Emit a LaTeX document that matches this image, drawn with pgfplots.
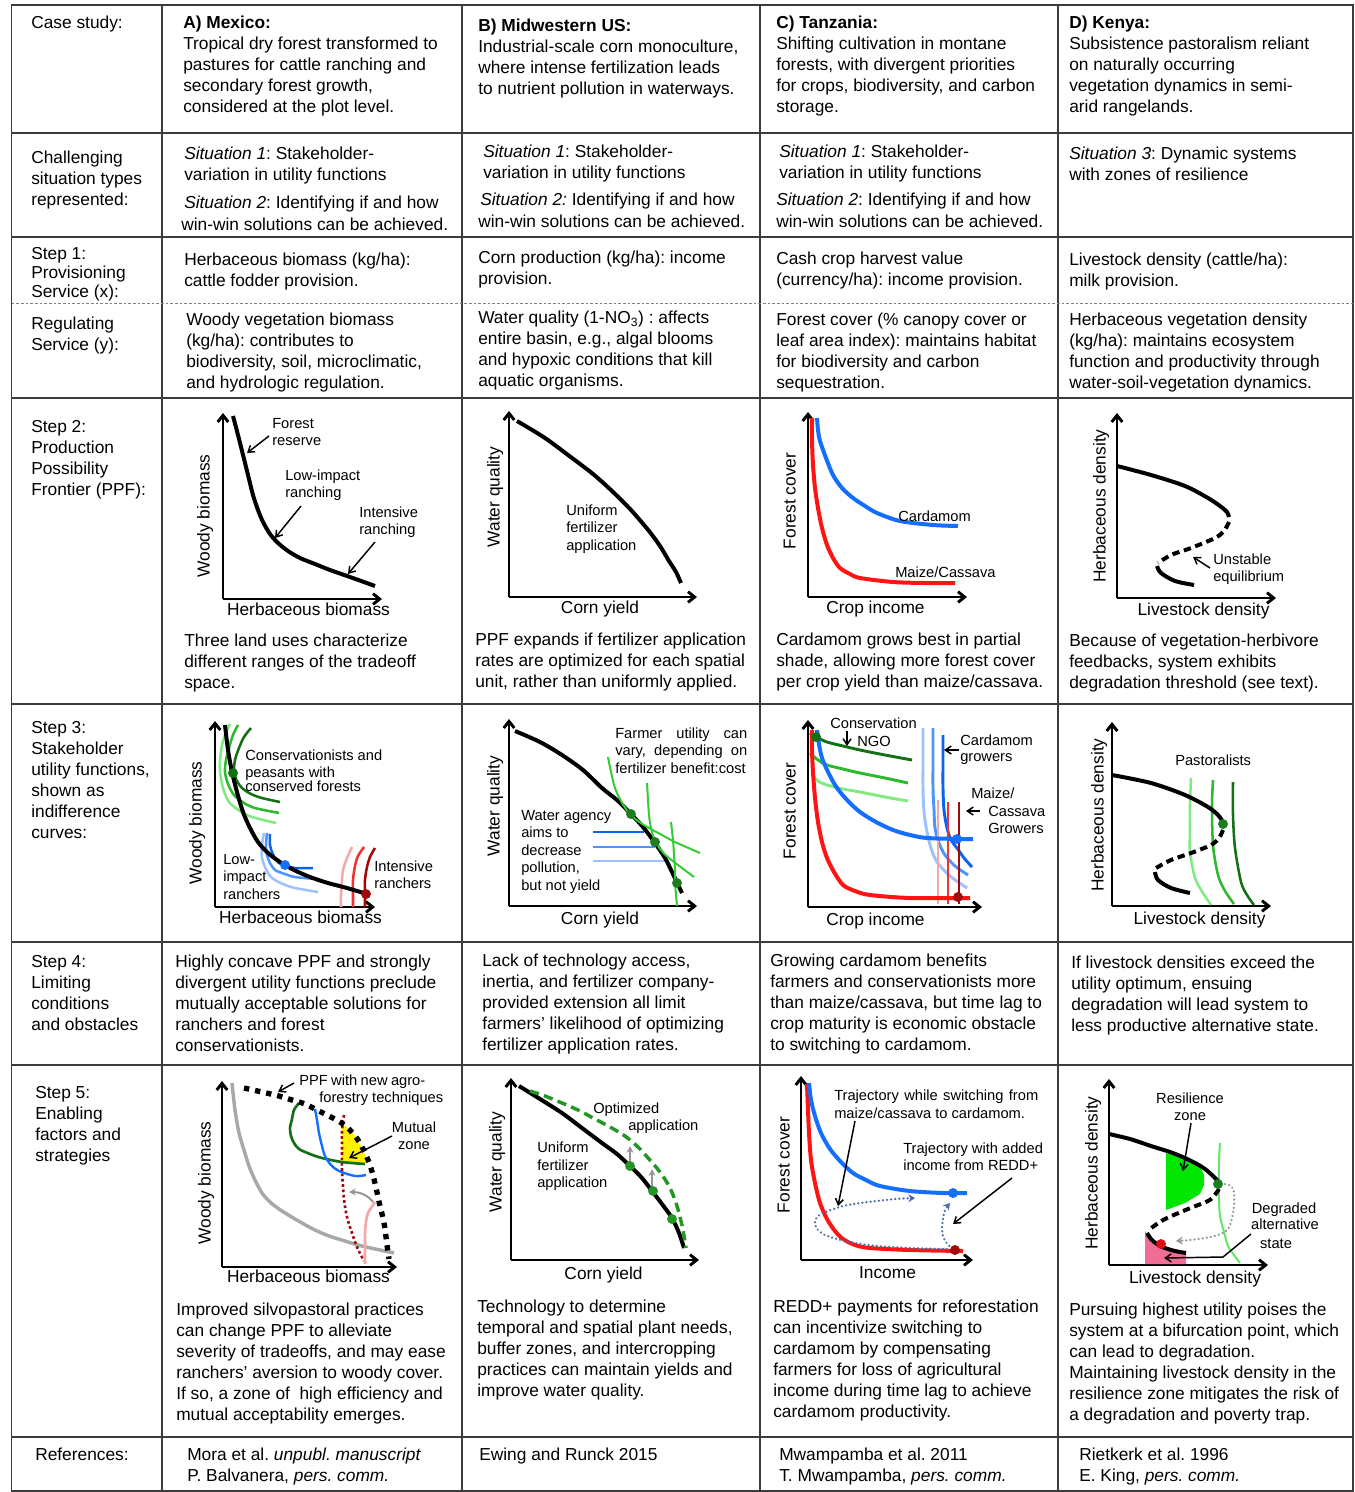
\documentclass[border=0pt]{standalone}
\usepackage{fontspec}
\setmainfont{Liberation Sans}
\usepackage{pgfplots}
\pgfplotsset{compat=1.18}
\usetikzlibrary{arrows.meta}
\frenchspacing

\definecolor{cblue}{RGB}{20,110,255}
\definecolor{cred}{RGB}{255,20,20}
\definecolor{dgreen}{RGB}{20,112,20}
\definecolor{mgreen}{RGB}{45,185,45}
\definecolor{lgreen}{RGB}{128,235,128}
\definecolor{bgreen}{RGB}{50,205,50}
\definecolor{dotgreen}{RGB}{30,125,30}
\definecolor{dotgreen2}{RGB}{35,150,35}
\definecolor{dblue}{RGB}{10,100,240}
\definecolor{mblue}{RGB}{77,148,255}
\definecolor{lblue}{RGB}{156,195,255}
\definecolor{pinkr}{RGB}{245,168,168}
\definecolor{midr}{RGB}{240,50,50}
\definecolor{darkr}{RGB}{160,10,10}
\definecolor{ggray}{RGB}{168,168,168}
\definecolor{agray}{RGB}{150,150,150}
\definecolor{traj}{RGB}{74,110,168}
\definecolor{resil}{RGB}{0,230,0}
\definecolor{degr}{RGB}{240,110,150}
\definecolor{lgline}{RGB}{102,230,102}
\definecolor{grid}{RGB}{60,60,60}

\newcommand\bodyf{\fontsize{13}{15.75}\selectfont}
% table cells (pixel coordinates, y down): x, first baseline, text
\newcommand\cell[3]{\node[anchor=north west,inner sep=0pt,align=left,font=\bodyf] at (#1,#2-14.7) {\strut #3};}
\newcommand\cellL[4]{\node[anchor=north west,inner sep=0pt,align=left,font=\fontsize{13}{#3}\selectfont] at (#1,{#2-0.9333*#3}) {\strut #4};}
% chart annotations (axis cs = pixel x, -pixel y)
\newcommand\ann[4]{\node[anchor=north west,inner sep=0pt,align=left,font=\fontsize{11}{#3}\selectfont] at (axis cs:#1,{0.9333*#3-#2}) {\strut #4};}
\newcommand\annc[4]{\node[anchor=north,inner sep=0pt,align=center,font=\fontsize{11}{#3}\selectfont] at (axis cs:#1,{0.9333*#3-#2}) {\strut #4};}
\newcommand\annb[3]{\node[anchor=base west,inner sep=0pt,font=\fontsize{11}{13}\selectfont] at (axis cs:#1,-#2) {#3};}
\newcommand\annbc[3]{\node[anchor=base,inner sep=0pt,font=\fontsize{11}{13}\selectfont] at (axis cs:#1,-#2) {#3};}
\newcommand\xl[3]{\node[anchor=base,inner sep=0pt,font=\bodyf] at (axis cs:#1,-#2) {#3};}
\newcommand\yl[3]{\node[anchor=base,rotate=90,inner sep=0pt,font=\bodyf] at (axis cs:#1,-#2) {#3};}
\newcommand\arr[4]{\draw[black,line width=1.1pt,-{Straight Barb[length=4.5pt,width=6pt]}] (axis cs:#1,-#2) -- (axis cs:#3,-#4);}

\pgfplotsset{mini/.style={x=0.75pt,y=0.75pt,axis lines=left,xtick=\empty,ytick=\empty,
  axis line style={line width=2.2pt,-{Straight Barb[length=5pt,width=8pt]}},
  clip=false,anchor=south west,enlargelimits=false},
  dot/.style={only marks,mark=*,mark size=3.5pt,color=#1}}

\begin{document}
\begin{tikzpicture}
\useasboundingbox (0,0) rectangle (1016.25pt,-1119pt);
\fill[white] (0,0) rectangle (1016.25pt,-1119pt);
\begin{scope}[x=0.75pt,y=-0.75pt]
% grid
\draw[grid,line width=0.8pt] (11.5,5) rectangle (1353,1491);
\foreach \xx in {162,462,760,1058} \draw[grid,line width=0.8pt] (\xx,5)--(\xx,1491);
\foreach \yy in {133,237,398,704,942,1065,1437} \draw[grid,line width=0.8pt] (11.5,\yy)--(1353,\yy);
\draw[gray,line width=0.7pt,dash pattern=on 2pt off 1.5pt] (11.5,303)--(1353,303);
% row 1
\cell{31}{28}{Case study:}
\cell{183}{28}{\textbf{A) Mexico:}\\Tropical dry forest transformed to\\pastures for cattle ranching and\\secondary forest growth,\\considered at the plot level.}
\cell{478}{31}{\textbf{B) Midwestern US:}\\Industrial-scale corn monoculture,\\where intense fertilization leads\\to nutrient pollution in waterways.}
\cell{776}{28}{\textbf{C) Tanzania:}\\Shifting cultivation in montane\\forests, with divergent priorities\\for crops, biodiversity, and carbon\\storage.}
\cell{1069}{28}{\textbf{D) Kenya:}\\Subsistence pastoralism reliant\\on naturally occurring\\vegetation dynamics in semi-\\arid rangelands.}
% row 2
\cell{31}{163}{Challenging\\situation types\\represented:}
\cell{184}{159}{\textit{Situation 1}: Stakeholder-\\variation in utility functions}
\cell{184}{208}{\textit{Situation 2}: Identifying if and how}
\cell{181}{230}{win-win solutions can be achieved.}
\cell{483}{157}{\textit{Situation 1}: Stakeholder-\\variation in utility functions}
\cell{480}{205}{\textit{Situation 2:} Identifying if and how}
\cell{478}{227}{win-win solutions can be achieved.}
\cell{779}{157}{\textit{Situation 1}: Stakeholder-\\variation in utility functions}
\cell{776}{205}{\textit{Situation 2}: Identifying if and how}
\cell{776}{227}{win-win solutions can be achieved.}
\cell{1069}{159}{\textit{Situation 3}: Dynamic systems\\with zones of resilience}
% row 3
\cellL{31}{259}{14.25}{Step 1:\\Provisioning\\Service (x):}
\cell{184}{265}{Herbaceous biomass (kg/ha):\\cattle fodder provision.}
\cell{478}{263}{Corn production (kg/ha): income\\provision.}
\cell{776}{264}{Cash crop harvest value\\(currency/ha): income provision.}
\cell{1069}{265}{Livestock density (cattle/ha):\\milk provision.}
% row 4
\cell{31}{329}{Regulating\\Service (y):}
\cell{186}{325}{Woody vegetation biomass\\(kg/ha): contributes to\\biodiversity, soil, microclimatic,\\and hydrologic regulation.}
\cell{478}{323}{Water quality (1-NO\textsubscript{3}) : affects\\entire basin, e.g., algal blooms\\and hypoxic conditions that kill\\aquatic organisms.}
\cell{776}{325}{Forest cover (\% canopy cover or\\leaf area index): maintains habitat\\for biodiversity and carbon\\sequestration.}
\cell{1069}{325}{Herbaceous vegetation density\\(kg/ha): maintains ecosystem\\function and productivity through\\water-soil-vegetation dynamics.}
% row 5
\cell{31}{432}{Step 2:\\Production\\Possibility\\Frontier (PPF):}
\cell{184}{646}{Three land uses characterize\\different ranges of the tradeoff\\space.}
\cell{475}{645}{PPF expands if fertilizer application\\rates are optimized for each spatial\\unit, rather than uniformly applied.}
\cell{776}{645}{Cardamom grows best in partial\\shade, allowing more forest cover\\per crop yield than maize/cassava.}
\cell{1069}{646}{Because of vegetation-herbivore\\feedbacks, system exhibits\\degradation threshold (see text).}
% row 6
\cell{31}{733}{Step 3:\\Stakeholder\\utility functions,\\shown as\\indifference\\curves:}
% row 7
\cell{31}{967}{Step 4:\\Limiting\\conditions\\and obstacles}
\cell{175}{967}{Highly concave PPF and strongly\\divergent utility functions preclude\\mutually acceptable solutions for\\ranchers and forest\\conservationists.}
\cell{482}{966}{Lack of technology access,\\inertia, and fertilizer company-\\provided extension all limit\\farmers’ likelihood of optimizing\\fertilizer application rates.}
\cell{770}{966}{Growing cardamom benefits\\farmers and conservationists more\\than maize/cassava, but time lag to\\crop maturity is economic obstacle\\to switching to cardamom.}
\cell{1071}{968}{If livestock densities exceed the\\utility optimum, ensuing\\degradation will lead system to\\less productive alternative state.}
% row 8
\cell{35}{1098}{Step 5:\\Enabling\\factors and\\strategies}
\cell{176}{1315}{Improved silvopastoral practices\\can change PPF to alleviate\\severity of tradeoffs, and may ease\\ranchers’ aversion to woody cover.\\If so, a zone of\ \ high efficiency and\\mutual acceptability emerges.}
\cell{477}{1312}{Technology to determine\\temporal and spatial plant needs,\\buffer zones, and intercropping\\practices can maintain yields and\\improve water quality.}
\cell{773}{1312}{REDD+ payments for reforestation\\can incentivize switching to\\cardamom by compensating\\farmers for loss of agricultural\\income during time lag to achieve\\cardamom productivity.}
\cell{1069}{1315}{Pursuing highest utility poises the\\system at a bifurcation point, which\\can lead to degradation.\\Maintaining livestock density in the\\resilience zone mitigates the risk of\\a degradation and poverty trap.}
% row 9
\cell{35}{1460}{References:}
\cell{187}{1460}{Mora et al. \textit{unpubl. manuscript}\\P. Balvanera, \textit{pers. comm.}}
\cell{479}{1460}{Ewing and Runck 2015}
\cell{779}{1460}{Mwampamba et al. 2011\\T. Mwampamba, \textit{pers. comm.}}
\cell{1079}{1460}{Rietkerk et al. 1996\\E. King, \textit{pers. comm.}}
\end{scope}

% ===== Step 2 A
\begin{axis}[mini,xmin=223,xmax=382,ymin=-599,ymax=-413,at={(167.25pt,-449.25pt)}]
\addplot[black,line width=3pt,smooth] coordinates {(233,-416)(238,-435)(243,-455)(248,-475)(253,-495)(258,-510)(263,-522)(270,-534)(278,-543)(288,-551)(300,-558)(315,-564)(330,-570)(350,-577)(375,-586)};
\ann{272}{428}{12.9}{Forest\\reserve}
\arr{269}{436}{247}{453}
\ann{285}{480}{13.1}{Low-impact\\ranching}
\arr{301}{506}{275}{538}
\ann{359}{517}{13.1}{Intensive\\ranching}
\arr{375}{542}{348}{574}
\xl{308.5}{615}{Herbaceous biomass}
\yl{209.5}{516}{Woody biomass}
\end{axis}
% ===== Step 2 B
\begin{axis}[mini,xmin=509,xmax=697,ymin=-597,ymax=-411,at={(381.75pt,-447.75pt)}]
\addplot[black,line width=3pt,smooth] coordinates {(517,-421)(545,-438)(572,-458)(593,-474)(612,-491)(631,-510)(649,-531)(660,-546)(669,-561)(676,-572)(681,-583)};
\ann{566}{515}{13.1}{Uniform\\fertilizer\\application}
\xl{600}{613}{Corn yield}
\yl{499.5}{497}{Water quality}
\end{axis}
% ===== Step 2 C
\begin{axis}[mini,xmin=808,xmax=967,ymin=-597,ymax=-412,at={(606pt,-447.75pt)}]
\addplot[cblue,line width=3pt,smooth] coordinates {(817,-418)(818,-430)(820,-441)(826,-458)(833,-475)(842,-488)(853,-498)(865,-506)(877,-513)(900,-521)(933,-525)(958,-526)};
\addplot[cred,line width=3pt,smooth] coordinates {(812,-418)(812,-440)(813,-465)(815,-488)(818,-508)(822,-528)(827,-545)(833,-558)(840,-568)(850,-574)(860,-578)(893,-582)(925,-583)(955,-583)};
\annb{898}{521}{Cardamom}
\annb{895}{577}{Maize/Cassava}
\xl{875.5}{613}{Crop income}
\yl{795.5}{501}{Forest cover}
\end{axis}
% ===== Step 2 D
\begin{axis}[mini,xmin=1117,xmax=1276,ymin=-598,ymax=-413,at={(837.75pt,-448.5pt)}]
\addplot[black,line width=3pt,smooth] coordinates {(1117,-466)(1151,-475)(1185,-486)(1208,-498)(1220,-506)(1227,-512)(1229,-517)};
\addplot[black,line width=3pt,smooth,dash pattern=on 5.5pt off 3.5pt] coordinates {(1229,-522)(1224,-531)(1215,-538)(1191,-548)(1171,-555)(1158,-563)};
\addplot[black,line width=3pt,smooth] coordinates {(1157,-566)(1161,-573)(1175,-581)(1194,-585)};
\ann{1213}{564}{12.75}{Unstable\\equilibrium}
\arr{1210}{568}{1193}{557}
\xl{1203.5}{615}{Livestock density}
\yl{1105.5}{506}{Herbaceous density}
\end{axis}

% ===== Step 3 A
\begin{axis}[mini,xmin=215,xmax=375,ymin=-907,ymax=-721,at={(161.25pt,-680.25pt)}]
\addplot[lgreen,line width=1.9pt,smooth] coordinates {(230,-724)(225,-735)(222,-745)(220,-760)(220,-772)(223,-788)(229,-802)(240,-811)(252,-817)(276,-823)};
\addplot[mgreen,line width=1.9pt,smooth] coordinates {(238,-725)(233,-735)(229,-748)(226,-760)(225,-772)(228,-784)(234,-795)(244,-803)(255,-808)(279,-813)};
\addplot[dgreen,line width=1.9pt,smooth] coordinates {(251,-728)(244,-737)(239,-748)(235,-760)(234,-772)(237,-781)(242,-788)(251,-794)(262,-798)(280,-802)};
\addplot[lblue,line width=1.9pt,smooth] coordinates {(264,-833)(262,-845)(262,-858)(266,-869)(272,-878)(283,-884)(295,-888)(318,-892)};
\addplot[mblue,line width=1.9pt,smooth] coordinates {(267,-833)(266,-845)(267,-855)(270,-863)(275,-870)(285,-874)(295,-877)(316,-879)};
\addplot[dblue,line width=1.9pt,smooth] coordinates {(270,-834)(270,-845)(272,-852)(275,-858)(279,-863)(287,-866)(295,-868)(313,-868)};
\addplot[pinkr,line width=1.9pt,smooth] coordinates {(352,-847)(347,-858)(343,-870)(342,-880)(341,-895)(341,-907)};
\addplot[midr,line width=1.9pt,smooth] coordinates {(364,-847)(358,-856)(355,-866)(353,-880)(353,-895)(353,-907)};
\addplot[darkr,line width=1.9pt,smooth] coordinates {(375,-848)(370,-857)(367,-867)(365,-880)(365,-895)(365,-907)};
\addplot[black,line width=3pt,smooth] coordinates {(225,-725)(228,-750)(232,-772)(237,-792)(243,-812)(250,-828)(258,-842)(268,-853)(280,-862)(294,-870)(310,-877)(328,-883)(347,-888)(367,-894)};
\addplot[dot=dgreen] coordinates {(233,-773)};
\addplot[dot=cblue] coordinates {(285,-865)};
\addplot[dot=darkr] coordinates {(366,-894)};
\ann{245}{760}{10.9}{Conservationists and\\peasants with\\conserved forests}
\ann{223}{864}{13.1}{Low-\\impact\\ranchers}
\ann{374}{871}{12.8}{Intensive\\ranchers}
\xl{300.5}{923}{Herbaceous biomass}
\yl{201.5}{823}{Woody biomass}
\end{axis}
% ===== Step 3 B
\begin{axis}[mini,xmin=509,xmax=697,ymin=-906,ymax=-719,at={(381.75pt,-679.5pt)}]
\addplot[dblue,line width=1.9pt] coordinates {(593,-832)(644,-832)};
\addplot[mblue,line width=1.9pt] coordinates {(593,-847)(655,-847)};
\addplot[lblue,line width=1.9pt] coordinates {(593,-861)(665,-861)};
\addplot[black,line width=3pt,smooth] coordinates {(515,-731)(540,-742)(562,-755)(583,-770)(602,-788)(617,-800)(629,-812)(643,-827)(655,-843)(665,-858)(672,-872)(682,-893)};
\addplot[bgreen,line width=1.5pt,smooth] coordinates {(608,-757)(611,-772)(615,-788)(621,-801)(629,-813)(638,-821)(649,-828)(662,-835)(675,-842)(700,-853)};
\addplot[bgreen,line width=1.5pt,smooth] coordinates {(647,-783)(648,-800)(649,-815)(651,-828)(654,-838)(660,-849)(669,-858)(694,-877)};
\addplot[bgreen,line width=1.5pt,smooth] coordinates {(671,-822)(673,-840)(674,-855)(675,-870)(675,-882)(677,-906)};
\addplot[dot=dotgreen] coordinates {(631,-814)(655,-842)(677,-883)};
\ann{615}{738}{13.1}{\makebox[99pt][s]{Farmer utility can}\\\makebox[99pt][s]{vary, depending on}\\fertilizer benefit:cost}
\ann{521}{820}{13.1}{Water agency\\aims to\\decrease\\pollution,\\but not yield}
\xl{600}{924}{Corn yield}
\yl{499.5}{806}{Water quality}
\end{axis}
% ===== Step 3 C
\begin{axis}[mini,xmin=808,xmax=982,ymin=-907,ymax=-720,at={(606pt,-680.25pt)}]
\addplot[dgreen,line width=2.2pt,smooth] coordinates {(810,-733)(816,-737)(827,-742)(843,-746)(860,-750)(885,-755)(912,-760)};
\addplot[mgreen,line width=2.2pt,smooth] coordinates {(810,-753)(818,-760)(827,-765)(843,-769)(860,-773)(885,-778)(908,-783)};
\addplot[lgreen,line width=2.2pt,smooth] coordinates {(812,-775)(818,-781)(827,-785)(843,-789)(860,-792)(885,-797)(908,-801)};
\addplot[lblue,line width=2.2pt,smooth] coordinates {(923,-728)(923,-760)(923,-788)(924,-812)(927,-832)(931,-848)(937,-862)(950,-876)(967,-888)};
\addplot[mblue,line width=2.2pt,smooth] coordinates {(933,-728)(933,-760)(933,-788)(934,-810)(935,-828)(939,-843)(945,-855)(955,-866)(968,-875)};
\addplot[dblue,line width=2.2pt,smooth] coordinates {(943,-735)(943,-760)(943,-788)(944,-810)(947,-828)(951,-840)(957,-848)(964,-858)(972,-867)};
\addplot[pinkr,line width=2pt] coordinates {(938,-800)(938,-904)};
\addplot[midr,line width=2pt] coordinates {(948,-802)(948,-904)};
\addplot[darkr,line width=2pt] coordinates {(959,-802)(959,-904)};
\addplot[cred,line width=3pt,smooth] coordinates {(812,-730)(812,-750)(813,-772)(815,-798)(818,-822)(822,-842)(827,-858)(834,-872)(843,-885)(855,-891)(870,-895)(910,-898)(970,-898)};
\addplot[cblue,line width=3pt,smooth] coordinates {(817,-730)(819,-744)(822,-758)(829,-774)(837,-788)(848,-801)(860,-812)(876,-822)(893,-830)(910,-835)(927,-838)(960,-839)(973,-839)};
\addplot[dot=dgreen] coordinates {(816,-737)};
\addplot[dot=cblue] coordinates {(957,-839)};
\addplot[dot=darkr] coordinates {(958,-897)};
\annb{830}{728}{Conservation}
\annb{857}{746}{NGO}
\arr{847}{731}{847}{746}
\ann{960}{745.7}{12}{Cardamom\\growers}
\arr{959}{750}{944}{750}
\annb{971}{798}{Maize/}
\annb{988}{816}{Cassava}
\annb{988}{833}{Growers}
\arr{980}{811}{966}{811}
\xl{875.5}{925}{Crop income}
\yl{795.5}{811}{Forest cover}
\end{axis}
% ===== Step 3 D
\begin{axis}[mini,xmin=1112,xmax=1271,ymin=-906,ymax=-722,at={(834pt,-679.5pt)}]
\addplot[lgreen,line width=1.9pt,smooth] coordinates {(1191,-778)(1190,-805)(1190,-830)(1190,-852)(1195,-878)(1203,-893)(1211,-905)};
\addplot[mgreen,line width=1.9pt,smooth] coordinates {(1213,-780)(1212,-805)(1213,-845)(1218,-875)(1225,-891)(1234,-904)};
\addplot[dgreen,line width=1.9pt,smooth] coordinates {(1233,-782)(1233,-815)(1235,-848)(1241,-882)(1247,-895)(1254,-905)};
\addplot[black,line width=3pt,smooth] coordinates {(1112,-775)(1151,-783)(1185,-795)(1208,-807)(1218,-815)(1223,-822)};
\addplot[black,line width=3pt,smooth,dash pattern=on 5.5pt off 3.5pt] coordinates {(1223,-830)(1219,-838)(1211,-845)(1191,-853)(1171,-860)(1156,-868)};
\addplot[black,line width=3pt,smooth] coordinates {(1155,-872)(1158,-880)(1171,-888)(1190,-893)};
\addplot[dot=dotgreen] coordinates {(1223,-824)};
\annb{1175}{765}{Pastoralists}
\xl{1199.5}{924}{Livestock density}
\yl{1103.5}{815}{Herbaceous density}
\end{axis}

% ===== Step 5 A
\begin{axis}[mini,xmin=222,xmax=397,ymin=-1267,ymax=-1081,at={(166.5pt,-950.25pt)}]
\addplot[fill=yellow,draw=none] coordinates {(342,-1124)(349,-1129)(356,-1137)(361,-1146)(365,-1155)(367,-1163)(355,-1163)(342,-1162)} --cycle;
\addplot[ggray,line width=2.6pt,smooth] coordinates {(232,-1083)(235,-1110)(239,-1133)(244,-1150)(249,-1166)(255,-1180)(262,-1193)(270,-1202)(279,-1209)(290,-1216)(302,-1223)(315,-1230)(329,-1236)(345,-1241)(362,-1246)(394,-1253)};
\addplot[darkr,line width=2pt,dash pattern=on 2pt off 2pt,smooth] coordinates {(344,-1115)(342,-1130)(342,-1149)(342,-1170)(344,-1199)(347,-1217)(352,-1233)(357,-1247)(364,-1261)};
\addplot[pinkr,line width=2pt,smooth] coordinates {(365,-1264)(365,-1245)(365,-1233)(366,-1222)(368,-1213)(375,-1202)};
\addplot[dgreen,line width=2pt,smooth] coordinates {(299,-1103)(294,-1110)(292,-1119)(290,-1128)(291,-1136)(294,-1143)(299,-1149)(310,-1154)(322,-1158)(342,-1162)(365,-1164)};
\addplot[cblue,line width=1.8pt,smooth] coordinates {(315,-1109)(317,-1120)(319,-1133)(322,-1146)(325,-1156)(331,-1165)(339,-1171)(355,-1176)(366,-1175)};
\addplot[black,line width=4pt,dash pattern=on 4pt off 4.5pt,smooth] coordinates {(244,-1088)(262,-1092)(279,-1096)(292,-1100)(305,-1104)(317,-1110)(329,-1116)(340,-1122)(349,-1129)(358,-1140)(365,-1153)(370,-1165)(374,-1179)(377,-1192)(380,-1206)(383,-1218)(385,-1229)(387,-1245)(389,-1259)};
\draw[agray,line width=1.5pt,-{Stealth[length=5pt,width=5pt]}] (axis cs:373,-1202) .. controls (axis cs:367,-1194) and (axis cs:358,-1192) .. (axis cs:349,-1192);
\annb{299}{1085}{\makebox[94.5pt][s]{PPF with new agro-}}
\annb{319}{1102}{forestry techniques}
\arr{294}{1083}{278}{1092}
\annc{414}{1132}{12.9}{Mutual\\zone}
\arr{392}{1136}{349}{1158}
\xl{308.5}{1282}{Herbaceous biomass}
\yl{210.5}{1183}{Woody biomass}
\end{axis}
% ===== Step 5 B
\begin{axis}[mini,xmin=511,xmax=699,ymin=-1260,ymax=-1078,at={(383.25pt,-945pt)}]
\addplot[black,line width=3pt,smooth] coordinates {(519,-1086)(540,-1099)(562,-1113)(582,-1128)(602,-1143)(617,-1154)(630,-1166)(642,-1178)(652,-1191)(662,-1204)(672,-1218)(679,-1233)(684,-1248)};
\addplot[dotgreen2,line width=2.6pt,dash pattern=on 7pt off 4pt,smooth] coordinates {(530,-1091)(545,-1096)(562,-1103)(578,-1110)(595,-1119)(610,-1127)(625,-1136)(638,-1147)(649,-1159)(660,-1172)(669,-1186)(675,-1200)(679,-1213)(683,-1230)(686,-1248)};
\draw[agray,line width=1.5pt,-{Stealth[length=5pt,width=5pt]}] (axis cs:630,-1163) -- (axis cs:630,-1146);
\draw[agray,line width=1.5pt,-{Stealth[length=5pt,width=5pt]}] (axis cs:652,-1188) -- (axis cs:652,-1169);
\addplot[dot=dotgreen2] coordinates {(630,-1166)(653,-1191)(672,-1219)};
\annb{593}{1113}{Optimized}
\annb{628}{1130}{application}
\ann{537}{1152}{13.3}{Uniform\\fertilizer\\application}
\xl{603.5}{1279}{Corn yield}
\yl{501.5}{1162}{Water quality}
\end{axis}
% ===== Step 5 C
\begin{axis}[mini,xmin=801,xmax=973,ymin=-1260,ymax=-1076,at={(600.75pt,-945pt)}]
\addplot[cred,line width=3pt,smooth] coordinates {(807,-1084)(808,-1110)(809,-1133)(811,-1160)(815,-1183)(820,-1203)(827,-1219)(835,-1231)(843,-1239)(855,-1245)(870,-1248)(910,-1250)(963,-1251)};
\addplot[cblue,line width=3pt,smooth] coordinates {(809,-1083)(811,-1100)(815,-1116)(821,-1133)(830,-1149)(841,-1162)(853,-1173)(866,-1180)(880,-1186)(910,-1191)(943,-1193)(967,-1193)};
\addplot[traj,line width=1.8pt,line cap=round,dash pattern=on 0.1pt off 3pt,smooth,-{Stealth[length=5pt,width=6pt]}] coordinates {(947,-1249)(910,-1248)(877,-1246)(855,-1243)(837,-1239)(825,-1235)(817,-1229)(815,-1222)(818,-1216)(828,-1211)(843,-1206)(860,-1203)(877,-1201)(895,-1199)(915,-1198)};
\addplot[traj,line width=1.8pt,line cap=round,dash pattern=on 0.1pt off 3pt,smooth,-{Stealth[length=5pt,width=6pt]}] coordinates {(952,-1249)(946,-1242)(943,-1236)(942,-1228)(943,-1219)(945,-1210)(950,-1203)};
\addplot[dot=cblue] coordinates {(953,-1193)};
\addplot[dot=darkr] coordinates {(955,-1250)};
\ann{834}{1100}{13.5}{\makebox[153pt][s]{Trajectory while switching from}\\maize/cassava to cardamom.}
\arr{855}{1121}{838}{1206}
\ann{903}{1153}{12.75}{Trajectory with added\\income from REDD+}
\arr{1012}{1178}{953}{1224}
\xl{887.5}{1278}{Income}
\yl{789.5}{1165}{Forest cover}
\end{axis}
% ===== Step 5 D
\begin{axis}[mini,xmin=1109,xmax=1268,ymin=-1265,ymax=-1079,at={(831.75pt,-948.75pt)}]
\addplot[fill=degr,draw=none] coordinates {(1145,-1231)(1148,-1236)(1155,-1241)(1165,-1247)(1176,-1251)(1186,-1253)(1186,-1264)(1145,-1264)} --cycle;
\addplot[fill=resil,draw=none] coordinates {(1166,-1153)(1185,-1159)(1200,-1166)(1204,-1175)(1204,-1185)(1200,-1194)(1185,-1203)(1166,-1210)} --cycle;
\addplot[lgline,line width=1.5pt,smooth] coordinates {(1220,-1143)(1219,-1160)(1219,-1183)(1219,-1200)(1220,-1216)(1224,-1232)(1228,-1246)(1234,-1255)(1240,-1263)};
\addplot[black,line width=3pt,smooth] coordinates {(1109,-1134)(1130,-1139)(1151,-1146)(1170,-1152)(1185,-1158)(1197,-1164)(1205,-1169)(1212,-1175)(1218,-1181)};
\addplot[black,line width=3pt,smooth,dash pattern=on 5.5pt off 3.5pt] coordinates {(1219,-1189)(1214,-1196)(1208,-1201)(1188,-1209)(1165,-1219)(1154,-1226)(1148,-1231)};
\addplot[black,line width=3pt,smooth] coordinates {(1147,-1233)(1151,-1239)(1157,-1244)(1165,-1248)(1175,-1251)(1186,-1253)};
\addplot[agray,line width=1.8pt,line cap=round,dash pattern=on 0.1pt off 3pt,smooth,-{Stealth[length=5pt,width=6pt]}] coordinates {(1225,-1184)(1231,-1186)(1234,-1192)(1234,-1206)(1232,-1218)(1228,-1229)(1218,-1235)(1205,-1238)(1190,-1240)(1176,-1241)};
\draw[black,line width=1.1pt,-{Straight Barb[length=4.5pt,width=6pt]}] (axis cs:1251,-1234) -- (axis cs:1223,-1257) -- (axis cs:1164,-1258);
\addplot[dot=dotgreen] coordinates {(1218,-1184)};
\addplot[dot=cred!85!black] coordinates {(1161,-1244)};
\annc{1190}{1103}{12.75}{Resilience\\zone}
\arr{1191}{1123}{1183}{1171}
\annbc{1284}{1213}{Degraded}
\annbc{1285}{1229}{alternative}
\annbc{1276}{1248}{state}
\xl{1195}{1283}{Livestock density}
\yl{1097.5}{1173}{Herbaceous density}
\end{axis}
\end{tikzpicture}
\end{document}
